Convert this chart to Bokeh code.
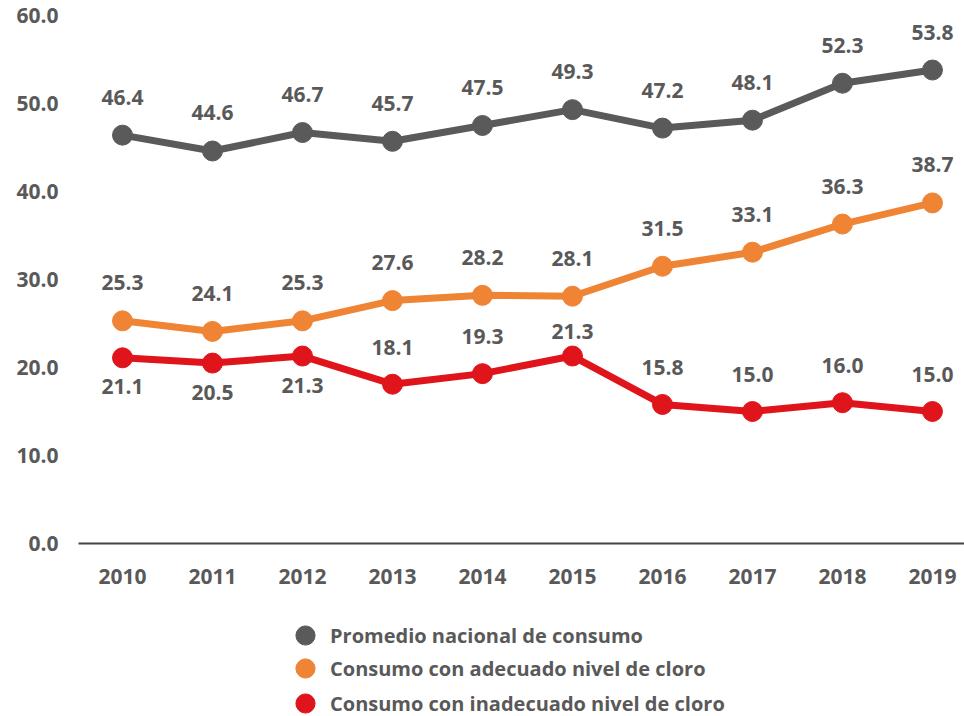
from bokeh.plotting import figure
from bokeh.layouts import column
from bokeh.models import Legend, LegendItem, FixedTicker, NumeralTickFormatter, Range1d, ColumnDataSource
from bokeh.core.properties import value
from bokeh.embed import file_html
from bokeh.resources import INLINE

years = [2010, 2011, 2012, 2013, 2014, 2015, 2016, 2017, 2018, 2019]
promedio = [46.4, 44.6, 46.7, 45.7, 47.5, 49.3, 47.2, 48.1, 52.3, 53.8]
adecuado = [25.3, 24.1, 25.3, 27.6, 28.2, 28.1, 31.5, 33.1, 36.3, 38.7]
inadecuado = [21.1, 20.5, 21.3, 18.1, 19.3, 21.3, 15.8, 15.0, 16.0, 15.0]
names = ["Promedio nacional de consumo",
         "Consumo con adecuado nivel de cloro",
         "Consumo con inadecuado nivel de cloro"]
y_ticks = [0, 10, 20, 30, 40, 50, 60]
# label placement for the red series
red_place = ["below", "below", "below", "above", "above", "near",
             "above", "above", "above", "above"]
place_offset = {"below": 29, "above": -37, "near": -25}

FONT = "Open Sans"
TXT = "#595959"
FS = "21px"
colors = ["#5a5a5a", "#ee8434", "#e0141b"]

p = figure(width=964, height=600, output_backend="svg", toolbar_location=None,
           x_range=Range1d(2009.511, 2019.356), y_range=Range1d(0, 61.7),
           min_border_left=78, min_border_right=0, min_border_top=0, min_border_bottom=57)
p.outline_line_color = None
p.xgrid.visible = False
p.ygrid.visible = False

xa = p.xaxis[0]
xa.ticker = FixedTicker(ticks=years)
xa.axis_line_color = "#444444"
xa.axis_line_width = 2
xa.major_tick_line_color = None
xa.minor_tick_line_color = None
xa.major_label_text_font = FONT
xa.major_label_text_font_style = "bold"
xa.major_label_text_font_size = FS
xa.major_label_text_color = TXT
xa.major_label_standoff = 19

ya = p.yaxis[0]
ya.ticker = FixedTicker(ticks=y_ticks)
ya.formatter = NumeralTickFormatter(format="0.0")
ya.axis_line_color = None
ya.major_tick_line_color = None
ya.minor_tick_line_color = None
ya.major_label_text_font = FONT
ya.major_label_text_font_style = "bold"
ya.major_label_text_font_size = FS
ya.major_label_text_color = TXT
ya.major_label_standoff = 14

series = [promedio, adecuado, inadecuado]
for i, (vals, c) in enumerate(zip(series, colors)):
    p.line(years, vals, line_color=c, line_width=7)
    p.scatter(years, vals, size=20, fill_color=c, line_color=c)
    if i == 2:
        off = [place_offset[k] for k in red_place]
    else:
        off = [-38] * len(years)
    src = ColumnDataSource(dict(x=years, y=vals, t=[f"{v:.1f}" for v in vals], off=off))
    p.text(x="x", y="y", text="t", y_offset="off", source=src,
           text_align="center", text_baseline="middle",
           text_font=value(FONT), text_font_style="bold", text_font_size=FS,
           text_color=TXT)

# legend panel below the chart (its renderers' points fall outside its ranges)
lg = figure(width=964, height=116, output_backend="svg", toolbar_location=None,
            x_range=Range1d(0, 1), y_range=Range1d(0, 1),
            x_axis_location=None, y_axis_location=None,
            min_border_left=78, min_border_right=0, min_border_top=0, min_border_bottom=0)
lg.outline_line_color = None
lg.xgrid.visible = False
lg.ygrid.visible = False

legend_y = [57, 24, -11]
for vals, c, n, ly in zip(series, colors, names, legend_y):
    r = lg.scatter(years, vals, size=20, fill_color=c, line_color=c)
    legend = Legend(items=[LegendItem(label=n, renderers=[r])], location=(203, ly),
                    orientation="vertical")
    legend.border_line_color = None
    legend.background_fill_alpha = 0
    legend.label_text_font = FONT
    legend.label_text_font_style = "bold"
    legend.label_text_font_size = "20px"
    legend.label_text_color = TXT
    legend.glyph_width = 48
    legend.glyph_height = 48
    legend.label_standoff = 1
    legend.padding = 0
    legend.margin = 0
    lg.add_layout(legend, "center")

layout = column(p, lg, spacing=0)
open("out.html", "w").write(file_html(layout, INLINE))
